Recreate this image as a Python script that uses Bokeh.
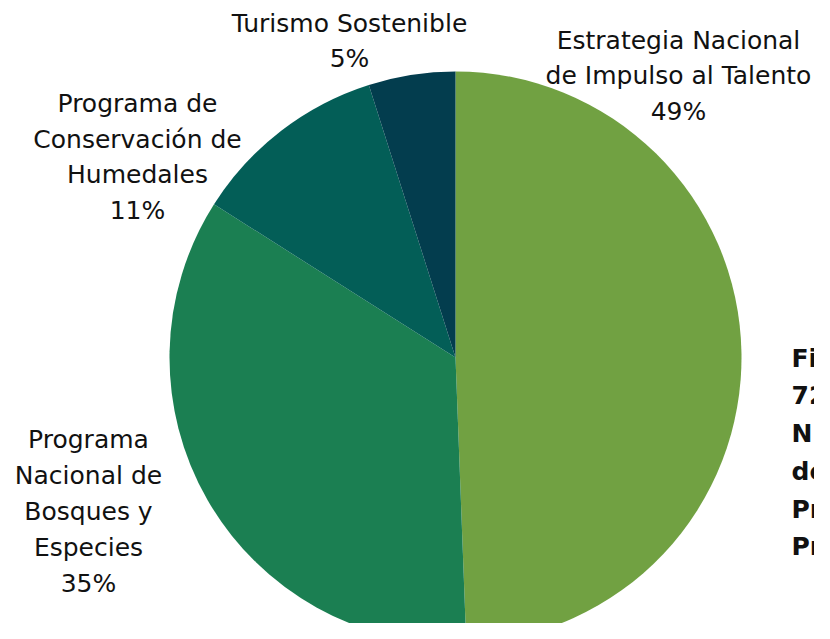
import math
from bokeh.plotting import figure
from bokeh.models import ColumnDataSource, Range1d
from bokeh.core.properties import value
from bokeh.embed import file_html
from bokeh.resources import INLINE

# ---- data ----
categories = [
    "Estrategia Nacional\nde Impulso al Talento",
    "Programa\nNacional de\nBosques y\nEspecies",
    "Programa de\nConservación de\nHumedales",
    "Turismo Sostenible",
]
shares = [49.4, 34.6, 11.1, 4.9]
colors = ["#71A142", "#1B7F52", "#035E57", "#033D4E"]
side_lines = ["Fi", "72", "N", "de", "Pr", "Pr"]

# ---- layout ----
W, H = 814, 623
cx, cy, R = 455, H - 357, 286
label_xy = [(678, H - 75.5), (88, H - 511), (137, H - 156.5), (349, H - 40.5)]
FONT = "DejaVu Sans"

total = sum(shares)
starts, ends = [], []
acc = 0.0
for s in shares:
    starts.append(math.pi / 2 - 2 * math.pi * acc / total)
    acc += s
    ends.append(math.pi / 2 - 2 * math.pi * acc / total)

labels = [f"{c}\n{round(s)}%" for c, s in zip(categories, shares)]
src = ColumnDataSource(dict(start=starts, end=ends, color=colors, label=labels,
                            lx=[a for a, b in label_xy], ly=[b for a, b in label_xy]))

p = figure(width=W, height=H, x_range=Range1d(0, W), y_range=Range1d(0, H),
           output_backend="svg", toolbar_location=None, min_border=0,
           x_axis_location=None, y_axis_location=None)
p.grid.visible = False
p.outline_line_color = None
p.background_fill_color = "white"

p.wedge(x=cx, y=cy, radius=R, start_angle="start", end_angle="end", direction="clock",
        fill_color="color", line_color=None, source=src)

p.text(x="lx", y="ly", text="label", source=src, text_align="center", text_baseline="middle",
       text_font=value(FONT), text_font_size="25px", text_line_height=1.237, text_color="#111111")

p.text(x=[791], y=[H - 452], text=["\n".join(side_lines)], text_align="left", text_baseline="middle",
       text_font=value(FONT), text_font_size="25px", text_font_style="bold",
       text_line_height=1.30, text_color="#111111")

open("out.html", "w").write(file_html(p, INLINE))
